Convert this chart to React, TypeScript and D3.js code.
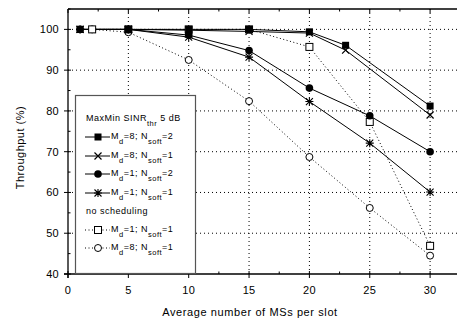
import * as d3 from "d3";

type Pt = [number, number];

const mdEight2: Pt[] = [[1, 100], [5, 100], [10, 100], [15, 100], [20, 99.4], [23, 96.1], [30, 81.2]];
const mdEight1: Pt[] = [[1, 100], [5, 100], [10, 99.8], [15, 99.5], [20, 99.1], [23, 94.9], [30, 79]];
const mdOne2: Pt[] = [[1, 100], [5, 100], [10, 98.6], [15, 94.8], [20, 85.6], [25, 78.8], [30, 70]];
const mdOne1: Pt[] = [[1, 100], [5, 100], [10, 98.1], [15, 93.2], [20, 82.3], [25, 72.1], [30, 60.1]];
const noSchedOne: Pt[] = [[2, 100], [5, 100], [10, 100], [15, 100], [20, 95.7], [25, 77.3], [30, 46.9]];
const noSchedEight: Pt[] = [[2, 100], [5, 99.3], [10, 92.5], [15, 82.4], [20, 68.7], [25, 56.2], [30, 44.5]];

const xTicks = [0, 5, 10, 15, 20, 25, 30];
const yTicks = [40, 50, 60, 70, 80, 90, 100];

type Marker = "square" | "x" | "dot" | "star" | "osquare" | "circle";

const series: { data: Pt[]; marker: Marker; dotted: boolean }[] = [
  { data: noSchedEight, marker: "circle", dotted: true },
  { data: noSchedOne, marker: "osquare", dotted: true },
  { data: mdOne1, marker: "star", dotted: false },
  { data: mdOne2, marker: "dot", dotted: false },
  { data: mdEight1, marker: "x", dotted: false },
  { data: mdEight2, marker: "square", dotted: false },
];

const font = "'Liberation Sans', Arial, sans-serif";

function Mark({ kind, x, y }: { kind: Marker; x: number; y: number }) {
  const s = 3.5;
  switch (kind) {
    case "square":
      return <rect x={x - s} y={y - s} width={2 * s} height={2 * s} fill="#000" />;
    case "osquare":
      return <rect x={x - s} y={y - s} width={2 * s} height={2 * s} fill="#fff" stroke="#000" strokeWidth={1} />;
    case "dot":
      return <circle cx={x} cy={y} r={s + 0.3} fill="#000" />;
    case "circle":
      return <circle cx={x} cy={y} r={s} fill="#fff" stroke="#000" strokeWidth={1} />;
    case "x":
      return (
        <path
          d={`M${x - s},${y - s}L${x + s},${y + s}M${x - s},${y + s}L${x + s},${y - s}`}
          stroke="#000"
          strokeWidth={1.2}
          fill="none"
        />
      );
    case "star":
      return (
        <path
          d={`M${x - s},${y - s}L${x + s},${y + s}M${x - s},${y + s}L${x + s},${y - s}M${x},${y - s - 0.5}L${x},${y + s + 0.5}M${x - s - 0.5},${y}L${x + s + 0.5},${y}`}
          stroke="#000"
          strokeWidth={1.1}
          fill="none"
        />
      );
  }
}

export default function App() {
  const width = 457;
  const height = 325;
  const left = 68;
  const top = 9;
  const bottom = 274;
  const x = d3.scaleLinear().domain([0, 32.5]).range([left, left + 32.5 * 12.07]);
  const y = d3.scaleLinear().domain([40, 105]).range([bottom, top]);
  const line = d3
    .line<Pt>()
    .x((d) => x(d[0]))
    .y((d) => y(d[1]));

  const minorX = d3.range(0, 32.5, 2.5);
  const minorY = d3.range(40, 105.1, 5);

  const legendRows: { marker: Marker; dotted: boolean; md: string; ns: string; yy: number }[] = [
    { marker: "square", dotted: false, md: "8", ns: "2", yy: 137 },
    { marker: "x", dotted: false, md: "8", ns: "1", yy: 156 },
    { marker: "dot", dotted: false, md: "1", ns: "2", yy: 174 },
    { marker: "star", dotted: false, md: "1", ns: "1", yy: 193 },
    { marker: "osquare", dotted: true, md: "1", ns: "1", yy: 230 },
    { marker: "circle", dotted: true, md: "8", ns: "1", yy: 248 },
  ];

  const subDy = 5;
  const subSize = 7.5;

  return (
    <svg
      width={width}
      height={height}
      style={{ position: "absolute", left: 0, top: 0, background: "#fff" }}
      fontFamily={font}
    >
      <rect width={width} height={height} fill="#fff" />
      {/* grid */}
      <g stroke="#000" strokeWidth={1} strokeDasharray="1,3">
        {xTicks.slice(1).map((t) => (
          <line key={`gx${t}`} x1={x(t)} x2={x(t)} y1={top} y2={bottom} />
        ))}
        {yTicks.slice(1).map((t) => (
          <line key={`gy${t}`} x1={left} x2={width} y1={y(t)} y2={y(t)} />
        ))}
      </g>
      {/* series */}
      {series.map((s, i) => (
        <path
          key={`l${i}`}
          d={line(s.data) ?? ""}
          fill="none"
          stroke="#000"
          strokeWidth={1}
          strokeDasharray={s.dotted ? "1,2.5" : undefined}
        />
      ))}
      {series.map((s, i) => (
        <g key={`m${i}`}>
          {s.data.map((d, j) => (
            <Mark key={j} kind={s.marker} x={x(d[0])} y={y(d[1])} />
          ))}
        </g>
      ))}
      {/* axes */}
      <g stroke="#000" strokeWidth={1.3}>
        <line x1={left} x2={left} y1={top} y2={bottom + 4} />
        <line x1={left - 4} x2={width} y1={bottom} y2={bottom} />
        <line x1={left} x2={width} y1={top} y2={top} />
      </g>
      <g stroke="#000" strokeWidth={1}>
        {minorX.map((t) => {
          const major = t % 5 === 0;
          return (
            <g key={`tx${t}`}>
              <line x1={x(t)} x2={x(t)} y1={bottom - (major ? 3 : 2.5)} y2={bottom + (major ? 4 : 0)} />
              <line x1={x(t)} x2={x(t)} y1={top} y2={top + (major ? 4 : 2.5)} />
            </g>
          );
        })}
        {minorY.map((t) => {
          const major = t % 10 === 0;
          return (
            <line key={`ty${t}`} x1={left - (major ? 4 : 0)} x2={left + (major ? 3 : 2.5)} y1={y(t)} y2={y(t)} />
          );
        })}
      </g>
      <g fontSize={11} fill="#000" letterSpacing={0.3}>
        {xTicks.map((t) => (
          <text key={`lx${t}`} x={x(t)} y={294} textAnchor="middle">
            {t}
          </text>
        ))}
        {yTicks.map((t) => (
          <text key={`ly${t}`} x={59} y={y(t) + 4} textAnchor="end">
            {t}
          </text>
        ))}
        <text x={250} y={316} textAnchor="middle" letterSpacing={0.6}>
          Average number of MSs per slot
        </text>
        <text
          transform={`translate(24, ${(top + bottom) / 2 + 6}) rotate(-90)`}
          textAnchor="middle"
          letterSpacing={0.5}
        >
          Throughput (%)
        </text>
      </g>
      {/* legend */}
      <rect x={75.5} y={95.5} width={120} height={178} fill="#fff" stroke="#555" strokeWidth={1.2} />
      <g fontSize={9} fill="#000" letterSpacing={0.5}>
        <text x={86} y={121}>
          <tspan>MaxMin SINR</tspan>
          <tspan dy={subDy} fontSize={subSize}>thr</tspan>
          <tspan dy={-subDy} dx={3}>5 dB</tspan>
        </text>
        <text x={86} y={214}>no scheduling</text>
        {legendRows.map((r) => (
          <g key={r.yy}>
            <line
              x1={85}
              x2={110}
              y1={r.yy}
              y2={r.yy}
              stroke="#000"
              strokeWidth={1}
              strokeDasharray={r.dotted ? "1,2.5" : undefined}
            />
            <Mark kind={r.marker} x={98} y={r.yy} />
            <text x={111} y={r.yy + 2}>
              <tspan>M</tspan>
              <tspan dy={subDy} fontSize={subSize}>d</tspan>
              <tspan dy={-subDy}>={r.md}; N</tspan>
              <tspan dy={subDy} fontSize={subSize}>soft</tspan>
              <tspan dy={-subDy}>={r.ns}</tspan>
            </text>
          </g>
        ))}
      </g>
    </svg>
  );
}
